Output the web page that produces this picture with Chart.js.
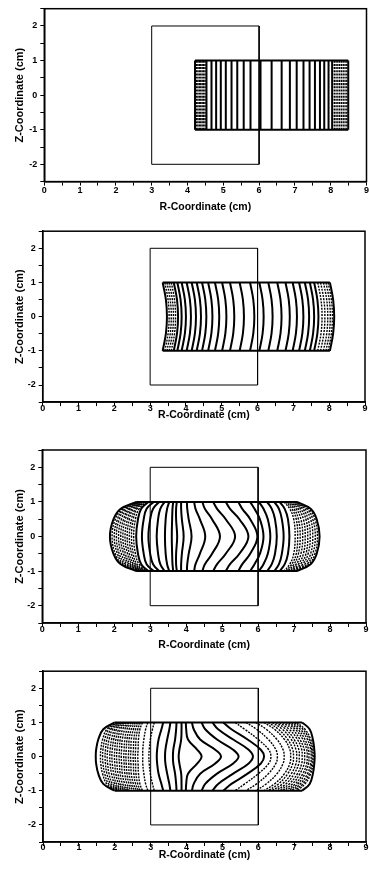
<!DOCTYPE html>
<html>
<head>
<meta charset="utf-8">
<script src="https://cdn.jsdelivr.net/npm/chart.js@4.4.1/dist/chart.umd.min.js"></script>
<style>
  body { margin: 0; background: #fff; width: 369px; height: 869px; position: relative; overflow: hidden; }
  canvas { position: absolute; left: 0; }
</style>
</head>
<body>
<canvas id="c1" width="369" height="217" style="top:0px"></canvas>
<canvas id="c2" width="369" height="219" style="top:217px"></canvas>
<canvas id="c3" width="369" height="217" style="top:436px"></canvas>
<canvas id="c4" width="369" height="216" style="top:653px"></canvas>
<script>
// tick labels
const xTickLabels = ['0', '1', '2', '3', '4', '5', '6', '7', '8', '9'];
const yTickLabels = ['-2', '-1', '0', '1', '2'];

// coil outline (r, z)
const boxR = [3, 3, 6, 6, 3];
const boxZ = [-2, 2, 2, -2, -2];

// panel 1 : straight lines, z from top to bottom
const p1Z = [1, -1];
const p1Left = [4.21, 4.21];
const p1Right = [8.49, 8.49];
const p1SolidR = [4.53, 4.67, 4.80, 4.93, 5.07, 5.23, 5.39, 5.57, 5.76, 6.04, 6.35, 6.63, 6.86, 7.05, 7.24, 7.41, 7.56, 7.70, 7.82, 7.94, 8.04];
const p1DottedR = [4.25, 4.29, 4.33, 4.37, 4.41, 4.45, 4.49, 8.10, 8.15, 8.20, 8.25, 8.30, 8.35, 8.40, 8.45];

// panel 2
const p2Z = [1, 0.5, 0, -0.5, -1];
const p2Left = [3.35, 3.44, 3.47, 3.44, 3.35];
const p2Right = [8.02, 8.11, 8.14, 8.11, 8.02];
const p2Dotted = [
  [3.41, 3.50, 3.53, 3.50, 3.41],
  [3.47, 3.56, 3.59, 3.56, 3.47],
  [3.53, 3.62, 3.65, 3.62, 3.53],
  [3.59, 3.68, 3.71, 3.68, 3.59],
  [7.68, 7.77, 7.80, 7.77, 7.68],
  [7.76, 7.85, 7.88, 7.85, 7.76],
  [7.84, 7.93, 7.96, 7.93, 7.84],
  [7.91, 8.00, 8.03, 8.00, 7.91],
  [7.97, 8.06, 8.09, 8.06, 7.97]
];
const p2Solid = [
  [3.66, 3.75, 3.78, 3.75, 3.66],
  [3.76, 3.85, 3.88, 3.85, 3.76],
  [3.88, 3.97, 4.00, 3.97, 3.88],
  [4.02, 4.11, 4.14, 4.11, 4.02],
  [4.16, 4.25, 4.28, 4.25, 4.16],
  [4.30, 4.39, 4.42, 4.39, 4.30],
  [4.45, 4.54, 4.57, 4.54, 4.45],
  [4.62, 4.71, 4.74, 4.71, 4.62],
  [4.81, 4.90, 4.93, 4.90, 4.81],
  [5.01, 5.10, 5.13, 5.10, 5.01],
  [5.23, 5.32, 5.35, 5.32, 5.23],
  [5.50, 5.59, 5.62, 5.59, 5.50],
  [5.79, 5.88, 5.91, 5.88, 5.79],
  [6.05, 6.14, 6.17, 6.14, 6.05],
  [6.30, 6.39, 6.42, 6.39, 6.30],
  [6.55, 6.64, 6.67, 6.64, 6.55],
  [6.78, 6.87, 6.90, 6.87, 6.78],
  [6.98, 7.07, 7.10, 7.07, 6.98],
  [7.16, 7.25, 7.28, 7.25, 7.16],
  [7.32, 7.41, 7.44, 7.41, 7.32],
  [7.46, 7.55, 7.58, 7.55, 7.46],
  [7.58, 7.67, 7.70, 7.67, 7.58]
];

// panel 3
const p3Z = [1, 0.8, 0.5, 0, -0.5, -0.8, -1];
const p3Left = [2.62, 2.18, 1.98, 1.88, 1.98, 2.18, 2.62];
const p3Right = [7.08, 7.46, 7.63, 7.71, 7.63, 7.46, 7.08];
const p3Dotted = [
  [2.64, 2.22, 2.03, 1.94, 2.03, 2.22, 2.64],
  [2.66, 2.26, 2.09, 2.00, 2.09, 2.26, 2.66],
  [2.69, 2.31, 2.14, 2.06, 2.14, 2.31, 2.69],
  [2.71, 2.36, 2.20, 2.12, 2.20, 2.36, 2.71],
  [2.74, 2.41, 2.26, 2.18, 2.26, 2.41, 2.74],
  [2.76, 2.45, 2.31, 2.24, 2.31, 2.45, 2.76],
  [2.79, 2.50, 2.37, 2.30, 2.37, 2.50, 2.79],
  [2.81, 2.54, 2.42, 2.36, 2.42, 2.54, 2.81],
  [2.84, 2.59, 2.48, 2.42, 2.48, 2.59, 2.84],
  [2.86, 2.63, 2.53, 2.48, 2.53, 2.63, 2.86],
  [2.90, 2.69, 2.59, 2.54, 2.59, 2.69, 2.90],
  [6.72, 6.88, 6.99, 7.03, 6.99, 6.88, 6.72],
  [6.77, 6.94, 7.06, 7.10, 7.06, 6.94, 6.77],
  [6.82, 7.00, 7.12, 7.17, 7.12, 7.00, 6.82],
  [6.86, 7.06, 7.19, 7.24, 7.19, 7.06, 6.86],
  [6.90, 7.12, 7.26, 7.31, 7.26, 7.12, 6.90],
  [6.94, 7.18, 7.33, 7.38, 7.33, 7.18, 6.94],
  [6.97, 7.24, 7.39, 7.45, 7.39, 7.24, 6.97],
  [7.00, 7.30, 7.46, 7.52, 7.46, 7.30, 7.00],
  [7.03, 7.36, 7.52, 7.59, 7.52, 7.36, 7.03],
  [7.06, 7.41, 7.58, 7.65, 7.58, 7.41, 7.06]
];
const p3Solid = [
  [2.95, 2.75, 2.66, 2.61, 2.66, 2.75, 2.95],
  [3.10, 2.90, 2.82, 2.77, 2.82, 2.90, 3.10],
  [3.25, 3.08, 3.00, 2.95, 3.00, 3.08, 3.25],
  [3.40, 3.28, 3.22, 3.18, 3.22, 3.28, 3.40],
  [3.53, 3.47, 3.43, 3.41, 3.43, 3.47, 3.53],
  [3.64, 3.62, 3.61, 3.60, 3.61, 3.62, 3.64],
  [3.74, 3.72, 3.72, 3.75, 3.72, 3.72, 3.74],
  [3.86, 3.86, 3.88, 3.93, 3.88, 3.86, 3.86],
  [4.02, 4.03, 4.07, 4.15, 4.07, 4.03, 4.02],
  [4.22, 4.26, 4.38, 4.53, 4.38, 4.26, 4.22],
  [4.45, 4.52, 4.72, 4.94, 4.72, 4.52, 4.45],
  [4.75, 4.86, 5.10, 5.36, 5.10, 4.86, 4.75],
  [5.10, 5.22, 5.48, 5.73, 5.48, 5.22, 5.10],
  [5.45, 5.56, 5.78, 5.98, 5.78, 5.56, 5.45],
  [5.78, 5.90, 6.05, 6.15, 6.05, 5.90, 5.78],
  [6.02, 6.15, 6.27, 6.34, 6.27, 6.15, 6.02],
  [6.25, 6.38, 6.47, 6.52, 6.47, 6.38, 6.25],
  [6.45, 6.58, 6.66, 6.71, 6.66, 6.58, 6.45],
  [6.60, 6.74, 6.83, 6.87, 6.83, 6.74, 6.60]
];

// panel 4
const p4Z = [1, 0.8, 0.5, 0.2, 0, -0.2, -0.5, -0.8, -1];
const p4Left = [2.00, 1.68, 1.54, 1.48, 1.47, 1.48, 1.54, 1.68, 2.00];
const p4Right = [7.22, 7.43, 7.52, 7.56, 7.57, 7.56, 7.52, 7.43, 7.22];
const p4Dotted = [
  [2.06, 1.78, 1.66, 1.61, 1.60, 1.61, 1.66, 1.78, 2.06],
  [2.09, 1.83, 1.72, 1.67, 1.66, 1.67, 1.72, 1.83, 2.09],
  [2.13, 1.89, 1.78, 1.74, 1.73, 1.74, 1.78, 1.89, 2.13],
  [2.16, 1.94, 1.84, 1.80, 1.79, 1.80, 1.84, 1.94, 2.16],
  [2.20, 2.00, 1.91, 1.87, 1.86, 1.87, 1.91, 2.00, 2.20],
  [2.24, 2.05, 1.97, 1.93, 1.92, 1.93, 1.97, 2.05, 2.24],
  [2.28, 2.11, 2.03, 2.00, 1.99, 2.00, 2.03, 2.11, 2.28],
  [2.32, 2.16, 2.09, 2.06, 2.05, 2.06, 2.09, 2.16, 2.32],
  [2.37, 2.22, 2.15, 2.13, 2.12, 2.13, 2.15, 2.22, 2.37],
  [2.41, 2.28, 2.21, 2.19, 2.18, 2.19, 2.21, 2.28, 2.41],
  [2.46, 2.34, 2.28, 2.26, 2.25, 2.26, 2.28, 2.34, 2.46],
  [2.51, 2.40, 2.34, 2.32, 2.31, 2.32, 2.34, 2.40, 2.51],
  [2.56, 2.46, 2.40, 2.39, 2.38, 2.39, 2.40, 2.46, 2.56],
  [2.61, 2.52, 2.46, 2.45, 2.44, 2.45, 2.46, 2.52, 2.61],
  [2.66, 2.58, 2.53, 2.52, 2.51, 2.52, 2.53, 2.58, 2.66],
  [2.71, 2.64, 2.59, 2.58, 2.57, 2.58, 2.59, 2.64, 2.71],
  [2.77, 2.70, 2.66, 2.65, 2.64, 2.65, 2.66, 2.70, 2.77],
  [2.92, 2.86, 2.81, 2.78, 2.78, 2.78, 2.81, 2.86, 2.92],
  [3.10, 3.05, 2.99, 2.96, 2.95, 2.96, 2.99, 3.05, 3.10],
  [5.35, 5.62, 6.00, 6.29, 6.35, 6.29, 6.00, 5.62, 5.35],
  [5.65, 5.95, 6.28, 6.49, 6.53, 6.49, 6.28, 5.95, 5.65],
  [5.92, 6.22, 6.52, 6.69, 6.72, 6.69, 6.52, 6.22, 5.92],
  [6.15, 6.45, 6.73, 6.88, 6.90, 6.88, 6.73, 6.45, 6.15],
  [6.27, 6.56, 6.82, 6.96, 6.98, 6.96, 6.82, 6.56, 6.27],
  [6.38, 6.67, 6.92, 7.05, 7.07, 7.05, 6.92, 6.67, 6.38],
  [6.48, 6.77, 7.00, 7.13, 7.14, 7.13, 7.00, 6.77, 6.48],
  [6.58, 6.86, 7.09, 7.21, 7.22, 7.21, 7.09, 6.86, 6.58],
  [6.67, 6.95, 7.16, 7.28, 7.29, 7.28, 7.16, 6.95, 6.67],
  [6.76, 7.03, 7.24, 7.35, 7.36, 7.35, 7.24, 7.03, 6.76],
  [6.84, 7.10, 7.30, 7.40, 7.41, 7.40, 7.30, 7.10, 6.84],
  [6.92, 7.17, 7.37, 7.46, 7.47, 7.46, 7.37, 7.17, 6.92],
  [7.00, 7.24, 7.42, 7.49, 7.50, 7.49, 7.42, 7.24, 7.00],
  [7.07, 7.30, 7.46, 7.52, 7.53, 7.52, 7.46, 7.30, 7.07]
];
const p4Solid = [
  [3.35, 3.30, 3.22, 3.18, 3.17, 3.18, 3.22, 3.30, 3.35],
  [3.55, 3.52, 3.46, 3.41, 3.40, 3.41, 3.46, 3.52, 3.55],
  [3.72, 3.71, 3.68, 3.63, 3.62, 3.63, 3.68, 3.71, 3.72],
  [3.86, 3.86, 3.85, 3.80, 3.78, 3.80, 3.85, 3.86, 3.86],
  [3.98, 3.99, 4.04, 4.30, 4.42, 4.30, 4.04, 3.99, 3.98],
  [4.15, 4.20, 4.38, 4.80, 4.96, 4.80, 4.38, 4.20, 4.15],
  [4.42, 4.52, 4.85, 5.30, 5.45, 5.30, 4.85, 4.52, 4.42],
  [4.72, 4.88, 5.30, 5.73, 5.85, 5.73, 5.30, 4.88, 4.72],
  [5.02, 5.25, 5.70, 6.07, 6.16, 6.07, 5.70, 5.25, 5.02]
];

const FONT = "'Liberation Sans', Arial, sans-serif";

// frame round the plot area
const framePlugin = {
  id: 'frame',
  afterDraw(chart) {
    const a = chart.chartArea, ctx = chart.ctx;
    ctx.save();
    ctx.strokeStyle = '#000';
    ctx.lineWidth = 1.5;
    ctx.strokeRect(a.left, a.top, a.right - a.left, a.bottom - a.top);
    ctx.restore();
  }
};

function curve(zs, rs, kind) {
  return {
    data: rs.map((r, i) => ({ x: r, y: zs[i] })),
    showLine: true,
    pointRadius: 0,
    borderColor: '#000',
    borderWidth: kind === 'dot' ? 1.4 : (kind === 'thin' ? 1 : 2),
    borderDash: kind === 'dot' ? [2, 1.2] : [],
    tension: kind === 'thin' || kind === 'flat' ? 0 : 0.4,
    fill: false
  };
}

function buildSets(zs, left, right, solid, dotted) {
  const sets = [];
  const last = zs.length - 1;
  sets.push(curve(boxZ, boxR, 'thin'));
  sets.push(curve([zs[0], zs[0]], [left[0], right[0]], 'flat'));
  sets.push(curve([zs[last], zs[last]], [left[last], right[last]], 'flat'));
  sets.push(curve(zs, left, 'edge'));
  sets.push(curve(zs, right, 'edge'));
  dotted.forEach(rs => sets.push(curve(zs, rs, 'dot')));
  solid.forEach(rs => sets.push(curve(zs, rs, 'solid')));
  return sets;
}

function makePanel(id, lay, sets) {
  const W = 369;
  const titleBottom = lay.title + 6;
  new Chart(document.getElementById(id), {
    type: 'scatter',
    data: { datasets: sets },
    plugins: [framePlugin],
    options: {
      responsive: false,
      animation: false,
      events: [],
      layout: { padding: { top: lay.top - lay.y0, left: 0, right: W - lay.right, bottom: lay.y0 + lay.h - titleBottom } },
      plugins: { legend: { display: false }, tooltip: { enabled: false } },
      scales: {
        x: {
          type: 'linear', min: 0, max: 9,
          afterFit: s => { s.height = titleBottom - lay.bottom; },
          ticks: {
            stepSize: 0.5, autoSkip: false, maxRotation: 0, padding: lay.labelPad, color: '#000',
            font: { family: FONT, size: 9, weight: 'bold', lineHeight: 1 },
            callback: v => (Number.isInteger(v) ? xTickLabels[v] : '')
          },
          grid: { drawOnChartArea: false, tickLength: 4, color: '#000' },
          border: { color: '#000', width: 1.5 },
          title: { display: true, text: 'R-Coordinate (cm)', color: '#000', padding: 0,
                   font: { family: FONT, size: 10.5, weight: 'bold', lineHeight: 1.15 } }
        },
        y: {
          type: 'linear', min: -2.5, max: 2.5,
          afterFit: s => { s.width = lay.left; },
          ticks: {
            stepSize: 0.5, autoSkip: false, padding: 3, color: '#000',
            font: { family: FONT, size: 9, weight: 'bold', lineHeight: 1 },
            callback: v => (Number.isInteger(v) ? yTickLabels[v + 2] : '')
          },
          grid: { drawOnChartArea: false, tickLength: 4, color: '#000' },
          border: { color: '#000', width: 1.5 },
          title: { display: true, text: 'Z-Coordinate (cm)', color: '#000', padding: { top: 13.4, bottom: 0 },
                   font: { family: FONT, size: 11, weight: 'bold', lineHeight: 1.2 } }
        }
      }
    }
  });
}

const p1Solid = p1SolidR.map(r => [r, r]);
const p1Dotted = p1DottedR.map(r => [r, r]);

makePanel('c1', { y0: 0, h: 217, top: 8.7, bottom: 181.6, left: 44.3, right: 366.7, labelPad: 0, title: 207 },
  buildSets(p1Z, p1Left, p1Right, p1Solid, p1Dotted));
makePanel('c2', { y0: 217, h: 219, top: 231.2, bottom: 402.1, left: 42.7, right: 365, labelPad: -2.5, title: 415 },
  buildSets(p2Z, p2Left, p2Right, p2Solid, p2Dotted));
makePanel('c3', { y0: 436, h: 217, top: 450, bottom: 623, left: 42.3, right: 366, labelPad: -1.5, title: 645 },
  buildSets(p3Z, p3Left, p3Right, p3Solid, p3Dotted));
makePanel('c4', { y0: 653, h: 216, top: 671.2, bottom: 842, left: 43, right: 366, labelPad: -2.5, title: 855 },
  buildSets(p4Z, p4Left, p4Right, p4Solid, p4Dotted));
</script>
</body>
</html>
